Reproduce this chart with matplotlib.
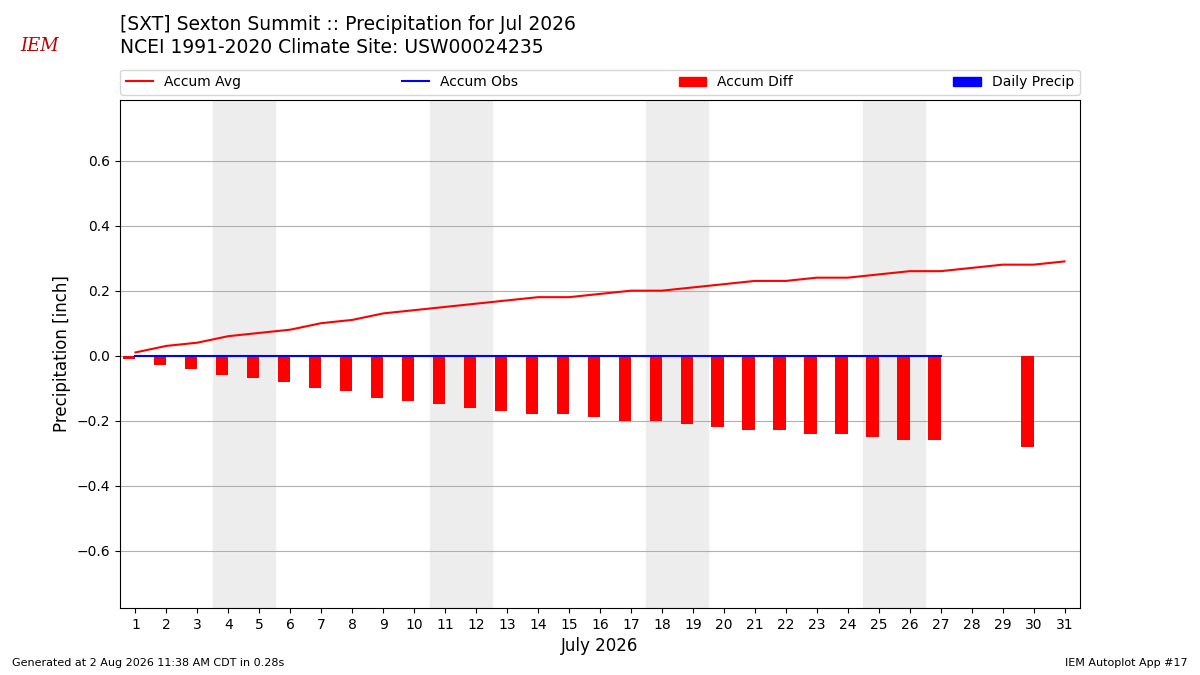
import matplotlib

matplotlib.use("Agg")

import matplotlib.pyplot as plt
import numpy as np
from matplotlib.patches import Patch
from matplotlib.lines import Line2D

days = list(range(1, 32))
accum_avg = [0.01, 0.03, 0.04, 0.06, 0.07, 0.08, 0.10, 0.11, 0.13, 0.14, 0.15,
             0.16, 0.17, 0.18, 0.18, 0.19, 0.20, 0.20, 0.21, 0.22, 0.23, 0.23,
             0.24, 0.24, 0.25, 0.26, 0.26, 0.27, 0.28, 0.28, 0.29]
obs_days = list(range(1, 28))
accum_obs = [0.0] * 27
diff_days = list(range(1, 28)) + [30]
accum_diff = [-0.01, -0.03, -0.04, -0.06, -0.07, -0.08, -0.10, -0.11, -0.13,
              -0.14, -0.15, -0.16, -0.17, -0.18, -0.18, -0.19, -0.20, -0.20,
              -0.21, -0.22, -0.23, -0.23, -0.24, -0.24, -0.25, -0.26, -0.26,
              -0.28]
weekends = [4, 11, 18, 25]

fig = plt.figure(figsize=(12, 6.75), dpi=100)
ax = fig.add_axes([0.1, 0.099, 0.8, 0.753])

for d in weekends:
    ax.axvspan(d - 0.5, d + 1.5, color="#ededed", zorder=0)

ax.bar(np.array(diff_days) - 0.4, accum_diff, width=0.4, align="edge",
       color="red", zorder=2)
ax.plot(days, accum_avg, color="red", zorder=3)
ax.plot(obs_days, accum_obs, color="blue", zorder=3)

ax.set_xlim(0.5, 31.5)
ax.set_ylim(-0.777, 0.787)
ax.set_xticks(days)
ax.set_yticks([-0.6, -0.4, -0.2, 0.0, 0.2, 0.4, 0.6])
ax.grid(axis="y", color="#b0b0b0", zorder=1)
ax.set_axisbelow(True)
ax.set_xlabel("July 2026", fontsize=12)
ax.set_ylabel("Precipitation [inch]", fontsize=12)

handles = [Line2D([], [], color="red"), Line2D([], [], color="blue"),
           Patch(color="red"), Patch(color="blue")]
ax.legend(handles, ["Accum Avg", "Accum Obs", "Accum Diff", "Daily Precip"],
          ncol=4, mode="expand", loc="lower left",
          bbox_to_anchor=(0, 1.01, 1, 0.05), borderaxespad=0, fontsize=10)

fig.text(0.1, 0.963, "[SXT] Sexton Summit :: Precipitation for Jul 2026",
         fontsize=13.5, va="center")
fig.text(0.1, 0.929, "NCEI 1991-2020 Climate Site: USW00024235",
         fontsize=13.5, va="center")
fig.text(0.017, 0.932, "IEM", color="#c00000", fontsize=13, style="italic",
         family="serif", va="center")
fig.text(0.01, 0.013, "Generated at 2 Aug 2026 11:38 AM CDT in 0.28s", fontsize=8)
fig.text(0.99, 0.013, "IEM Autoplot App #17", fontsize=8, ha="right")

fig.savefig("out.png", dpi=100)
